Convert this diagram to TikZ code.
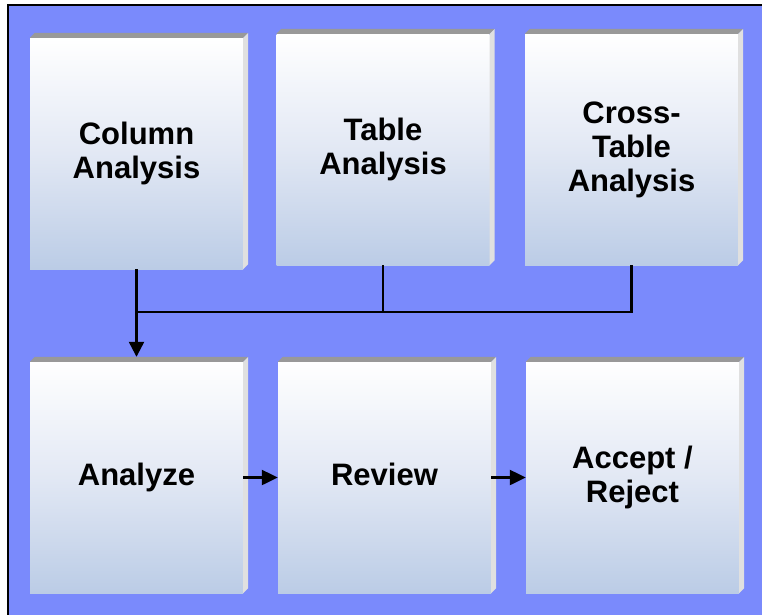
\documentclass[tikz,border=0pt]{standalone}
\usepackage{fontspec}
\setmainfont{Liberation Sans}
\usetikzlibrary{arrows.meta,calc}
\definecolor{bg}{RGB}{122,138,252}
\definecolor{boxbot}{RGB}{187,204,230}
\definecolor{boxmid}{RGB}{226,232,244}
\definecolor{bevtop}{RGB}{153,153,153}
\definecolor{bevside}{RGB}{224,224,224}
\newcommand\bevelbox[1]{%
  \fill[bevtop] (#1.north west) -- ++(5,-5) -- ($(#1.north east)+(5,-5)$) -- (#1.north east) -- cycle;
  \fill[bevside] (#1.north east) -- ++(5,-5) -- ($(#1.south east)+(5,-5)$) -- (#1.south east) -- cycle;}
\begin{document}
\begin{tikzpicture}[x=1pt,y=-1pt,
  box/.style={minimum width=213pt, minimum height=231pt, inner sep=0pt,
    top color=white, bottom color=boxbot, middle color=boxmid,
    align=center, font=\fontsize{31}{34}\selectfont\bfseries},
  oneline/.style={text height=23pt, text depth=7pt},
  link/.style={line width=2.3pt},
  harrow/.style={link, -{Triangle[length=16pt,width=15pt]}},
  varrow/.style={link, -{Triangle[length=15pt,width=15pt]}}]
\useasboundingbox (0,0) rectangle (762,614);
\fill[white] (0,0) rectangle (762,614);
\fill[bg] (8,5) rectangle (780,630);
\draw[line width=2pt] (780,5) -- (8,5) -- (8,630);
% boxes
\node[box] (col) at (136.5,153.5) {Column\\Analysis};
\node[box] (tab) at (383,149.5) {Table\\Analysis};
\node[box] (cross) at (631.5,149.5) {Cross-\\Table\\Analysis};
\node[box, oneline] (ana) at (136.5,477.5) {Analyze};
\node[box, oneline] (rev) at (384.5,477.5) {Review};
\node[box] (acc) at (632.5,477.5) {Accept /\\Reject};
\bevelbox{col}\bevelbox{tab}\bevelbox{cross}
\bevelbox{ana}\bevelbox{rev}\bevelbox{acc}
% connectors
\coordinate (j) at (136.5,312);
\coordinate (anatop) at ($(ana.north)+(0,-5)$);
\draw[varrow] (col.south) -- (anatop);
\draw[link] (cross.south) |- (j);
\draw[link] (tab.south) -- (tab.south |- j);
\draw[harrow] (ana.east) -- (rev.west);
\draw[harrow] (rev.east) -- (acc.west);
\end{tikzpicture}
\end{document}
